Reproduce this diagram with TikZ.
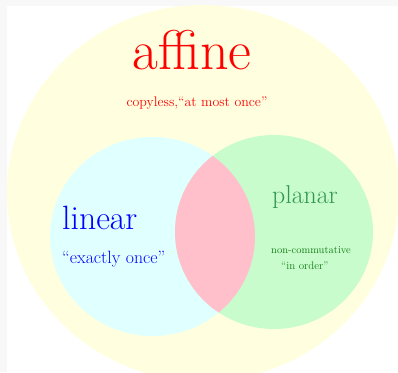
\documentclass[tikz,border=0pt]{standalone}
\definecolor{vnback}{RGB}{248,248,248}
\definecolor{vnaffine}{RGB}{255,255,224}
\definecolor{vnlinear}{RGB}{224,255,255}
\definecolor{vnplanar}{RGB}{200,252,204}
\definecolor{vnboth}{RGB}{255,192,203}
\definecolor{vnplanartext}{RGB}{50,150,80}
\definecolor{vnsmalltext}{RGB}{20,125,20}

\begin{document}
\begin{tikzpicture}[x=1pt,y=-1pt,
  lbl/.style={inner sep=0pt,anchor=base west}]
  \useasboundingbox (0,0) rectangle (398,372);
  \fill[vnback] (0,0) rectangle (398,372);
  \fill[white] (7,6) rectangle (398,372);
  \coordinate (A) at (203,193);
  \coordinate (L) at (152.5,236.5);
  \coordinate (P) at (274,232);
  \begin{scope}
    \clip (7,5) rectangle (398,372);
    \fill[vnaffine] (A) ellipse [x radius=196,y radius=188];
  \end{scope}
  \fill[vnlinear] (L) ellipse [x radius=102.5,y radius=99.5];
  \fill[vnplanar] (P) ellipse [x radius=99,y radius=97];
  \begin{scope}
    \clip (L) ellipse [x radius=102.5,y radius=99.5];
    \fill[vnboth] (P) ellipse [x radius=99,y radius=97];
  \end{scope}
  \node[inner sep=0pt,anchor=base,red,font=\fontsize{56}{60}\selectfont] (affine) at (192,69) {affine};
  \node[inner sep=0pt,anchor=base,red,font=\fontsize{13.9}{16}\selectfont] (copyless) at (197,106) {copyless,“at most once”};
  \node[lbl,blue,font=\fontsize{33.7}{38}\selectfont] (linear) at (62,229) {linear};
  \node[lbl,blue,font=\fontsize{17.8}{21}\selectfont] (exactly) at (62,263) {“exactly once”};
  \node[lbl,vnplanartext,font=\fontsize{25.8}{30}\selectfont] (planar) at (272,203) {planar};
  \node[lbl,vnsmalltext,font=\fontsize{10.5}{12}\selectfont] (noncomm) at (271,253) {non-commutative};
  \node[lbl,vnsmalltext,font=\fontsize{11}{13}\selectfont] (inorder) at (281,269) {“in order”};
\end{tikzpicture}
\end{document}
